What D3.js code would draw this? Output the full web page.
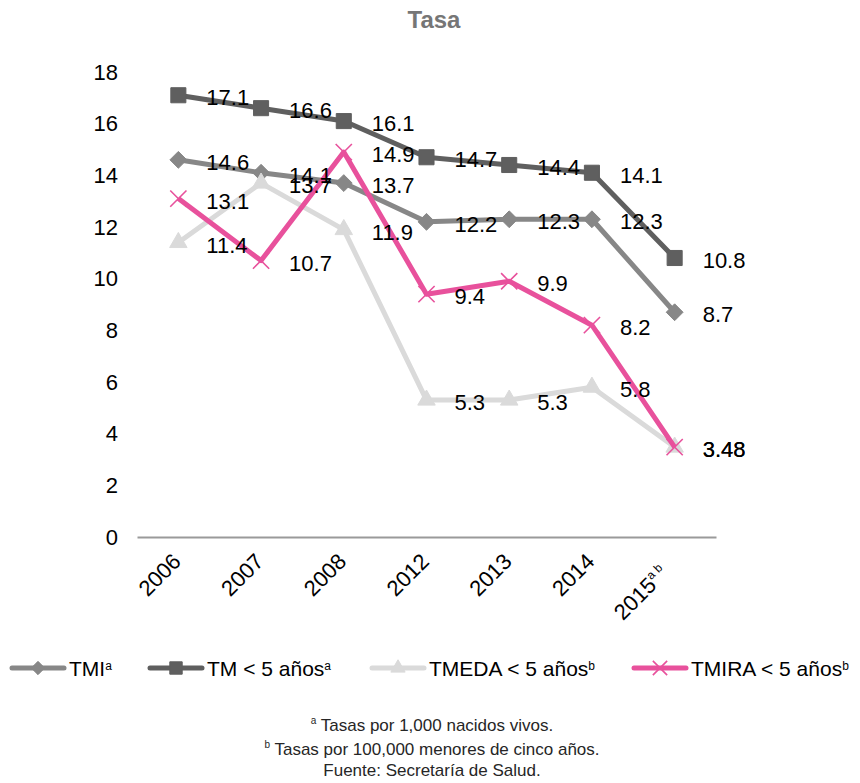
<!DOCTYPE html>
<html>
<head>
<meta charset="utf-8">
<script src="https://cdn.jsdelivr.net/npm/d3@7"></script>
<style>
  body { margin: 0; background: #fff; }
  text { font-family: "Liberation Sans", Arial, sans-serif; }
</style>
</head>
<body>
<div id="chart"></div>
<script>
// chart data
var years = ["2006", "2007", "2008", "2012", "2013", "2014", "2015"];
var yTicks = [0, 2, 4, 6, 8, 10, 12, 14, 16, 18];
var tmi = [14.6, 14.1, 13.7, 12.2, 12.3, 12.3, 8.7];
var tm5 = [17.1, 16.6, 16.1, 14.7, 14.4, 14.1, 10.8];
var tmeda = [11.4, 13.7, 11.9, 5.3, 5.3, 5.8, 3.48];
var tmira = [13.1, 10.7, 14.9, 9.4, 9.9, 8.2, 3.48];
var seriesNames = ["TMI", "TM < 5 años", "TMEDA < 5 años", "TMIRA < 5 años"];
var seriesSups = ["a", "a", "b", "b"];
var notes = ["Tasas por 1,000 nacidos vivos.", "Tasas por 100,000 menores de cinco años.", "Fuente: Secretaría de Salud."];
var noteSups = ["a", "b", ""];

var width = 860;
var height = 783;

var series = [
    { name: seriesNames[0], sup: seriesSups[0], values: tmi, color: "#878787", marker: "diamond" },
    { name: seriesNames[1], sup: seriesSups[1], values: tm5, color: "#5f5f5f", marker: "square" },
    { name: seriesNames[2], sup: seriesSups[2], values: tmeda, color: "#dadada", marker: "triangle" },
    { name: seriesNames[3], sup: seriesSups[3], values: tmira, color: "#e8519c", marker: "cross" }
];

var svg = d3.select("#chart").append("svg")
    .attr("width", width)
    .attr("height", height);

var x = d3.scaleBand()
    .domain(years)
    .range([137, 716]);

var y = d3.scaleLinear()
    .domain([0, 18])
    .range([537, 72]);

// title
svg.append("text")
    .attr("x", 434)
    .attr("y", 28)
    .attr("text-anchor", "middle")
    .style("font-size", "24px")
    .style("font-weight", "bold")
    .style("fill", "#767676")
    .text("Tasa");

// y axis (labels only)
var yAxis = svg.append("g")
    .attr("transform", "translate(137,0)")
    .call(d3.axisLeft(y).tickValues(yTicks).tickSize(0).tickPadding(19));
yAxis.select(".domain").remove();
yAxis.selectAll("text")
    .style("font-size", "22px")
    .style("fill", "#000");

// x axis
var xAxis = svg.append("g")
    .attr("transform", "translate(0," + y(0) + ")")
    .call(d3.axisBottom(x).tickSize(0).tickSizeOuter(0));
xAxis.select(".domain")
    .attr("stroke", "#9a9a9a")
    .attr("stroke-width", 2);
xAxis.selectAll(".tick text").remove();
xAxis.selectAll(".tick").each(function(d, i) {
    var t = d3.select(this).append("text")
        .attr("transform", "translate(-7,15) rotate(-45)")
        .attr("text-anchor", "end")
        .attr("dy", "0.7em")
        .style("font-size", "22px")
        .style("fill", "#000");
    if (d === "2015") {
        t.attr("transform", "translate(-16,27) rotate(-45)");
        t.append("tspan").text(d);
        t.append("tspan").attr("dy", "-0.75em").style("font-size", "12px").text("a b");
    } else {
        t.text(d);
    }
});

var line = d3.line()
    .x(function(d, i) { return x(years[i]) + x.bandwidth() / 2; })
    .y(function(d) { return y(d); });

function markerPath(type, s) {
    if (type === "diamond") return d3.symbol(d3.symbolDiamond2, s * s * 0.5)();
    if (type === "square") return d3.symbol(d3.symbolSquare2, s * s)();
    if (type === "triangle") return d3.symbol(d3.symbolTriangle2, s * s * 0.45)();
    return d3.symbol(d3.symbolX, s * s * 0.6)();
}

function drawMarker(g, type, color, s) {
    var p = g.append("path").attr("d", markerPath(type, s));
    if (type === "cross") {
        p.attr("fill", "none").attr("stroke", color).attr("stroke-width", 1.6);
    } else {
        p.attr("fill", color).attr("stroke", color).attr("stroke-width", 1);
    }
    return p;
}

// lines and markers
series.forEach(function(s) {
    svg.append("path")
        .datum(s.values)
        .attr("d", line)
        .attr("fill", "none")
        .attr("stroke", s.color)
        .attr("stroke-width", 5)
        .attr("stroke-linejoin", "round");

    s.values.forEach(function(v, i) {
        var g = svg.append("g")
            .attr("transform", "translate(" + (x(years[i]) + x.bandwidth() / 2) + "," + y(v) + ")");
        var size = s.marker === "square" ? 17 : s.marker === "diamond" ? 19 : s.marker === "triangle" ? 22 : 17;
        drawMarker(g, s.marker, s.color, size);
    });
});

// data labels
series.forEach(function(s) {
    svg.selectAll(null)
        .data(s.values)
        .enter()
        .append("text")
        .attr("x", function(d, i) { return x(years[i]) + x.bandwidth() / 2 + 28; })
        .attr("y", function(d) { return y(d) + 10; })
        .style("font-size", "22px")
        .style("fill", "#000")
        .text(function(d) { return d; });
});

// legend
var legendX = [12, 150, 372, 634];
series.forEach(function(s, i) {
    var g = svg.append("g").attr("transform", "translate(" + legendX[i] + ",668)");
    g.append("line")
        .attr("x1", 0).attr("x2", 52)
        .attr("stroke", s.color)
        .attr("stroke-width", 5)
        .attr("stroke-linecap", "round");
    var mg = g.append("g").attr("transform", "translate(26,0)");
    var size = s.marker === "square" ? 14 : s.marker === "diamond" ? 15 : s.marker === "triangle" ? 18 : 15;
    drawMarker(mg, s.marker, s.color, size);
    var t = g.append("text")
        .attr("x", 57)
        .attr("y", 8)
        .style("font-size", "21px")
        .style("fill", "#000");
    t.append("tspan").text(s.name);
    t.append("tspan").attr("dy", "-0.5em").style("font-size", "12px").text(s.sup);
});

// notes
notes.forEach(function(n, i) {
    var t = svg.append("text")
        .attr("x", 432)
        .attr("y", 728 + i * 24)
        .attr("text-anchor", "middle")
        .style("font-size", "17px")
        .style("fill", "#262626");
    if (noteSups[i]) {
        t.append("tspan").attr("dy", "-0.45em").style("font-size", "10px").text(noteSups[i]);
        t.append("tspan").attr("dy", "0.45em").text(" " + n);
    } else {
        t.text(n);
    }
});
</script>
</body>
</html>
